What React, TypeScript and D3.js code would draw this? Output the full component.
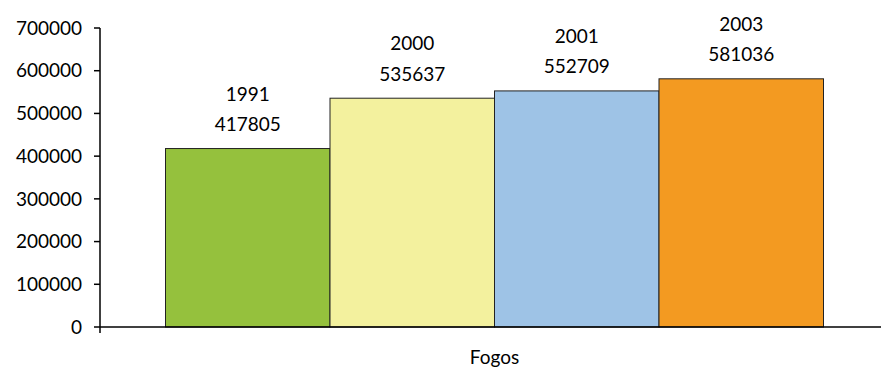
import React from "react";
import * as d3 from "d3";

const years = ["1991", "2000", "2001", "2003"];
const values = [417805, 535637, 552709, 581036];
const colors = ["#95c13d", "#f3f19e", "#9ec3e6", "#f39a21"];
const yTicks = [0, 100000, 200000, 300000, 400000, 500000, 600000, 700000];
const category = "Fogos";

const W = 881;
const H = 370;
const FONT = "Lato, 'Open Sans', sans-serif";

export default function App() {
  const x0 = 100;
  const x1 = 889;
  const y = d3.scaleLinear().domain([0, 700000]).range([327, 28]);
  const band = d3
    .scaleBand<string>()
    .domain(years)
    .range([x0 + 65.5, x1 - 65.5])
    .padding(0);
  return (
    <svg
      width={W}
      height={H}
      style={{ position: "absolute", left: 0, top: 0, background: "#fff" }}
    >
      {years.map((yr, i) => {
        const bx = band(yr)!;
        const bw = band.bandwidth();
        const top = y(values[i]);
        return (
          <g key={yr}>
            <rect
              x={bx}
              y={top}
              width={bw}
              height={y(0) - top}
              fill={colors[i]}
              stroke="#222"
              strokeWidth={1}
            />
            <text
              x={bx + bw / 2}
              y={top - 48}
              textAnchor="middle"
              fontFamily={FONT}
              fontSize={19}
              fill="#000"
            >
              {yr}
            </text>
            <text
              x={bx + bw / 2}
              y={top - 17.5}
              textAnchor="middle"
              fontFamily={FONT}
              fontSize={19}
              fill="#000"
            >
              {values[i]}
            </text>
          </g>
        );
      })}
      {/* y axis */}
      <line x1={x0} x2={x0} y1={y(700000)} y2={y(0) + 6} stroke="#000" strokeWidth={1.5} />
      {yTicks.map((t) => (
        <g key={t}>
          <line x1={x0 - 6} x2={x0} y1={y(t)} y2={y(t)} stroke="#000" strokeWidth={1.5} />
          <text
            x={x0 - 18}
            y={y(t)}
            dy="0.35em"
            textAnchor="end"
            fontFamily={FONT}
            fontSize={19}
            fill="#000"
          >
            {t}
          </text>
        </g>
      ))}
      {/* x axis */}
      <line x1={x0} x2={x1} y1={y(0)} y2={y(0)} stroke="#000" strokeWidth={1.5} />
      <text
        x={(x0 + x1) / 2}
        y={364}
        textAnchor="middle"
        fontFamily={FONT}
        fontSize={19}
        fill="#000"
      >
        {category}
      </text>
    </svg>
  );
}
